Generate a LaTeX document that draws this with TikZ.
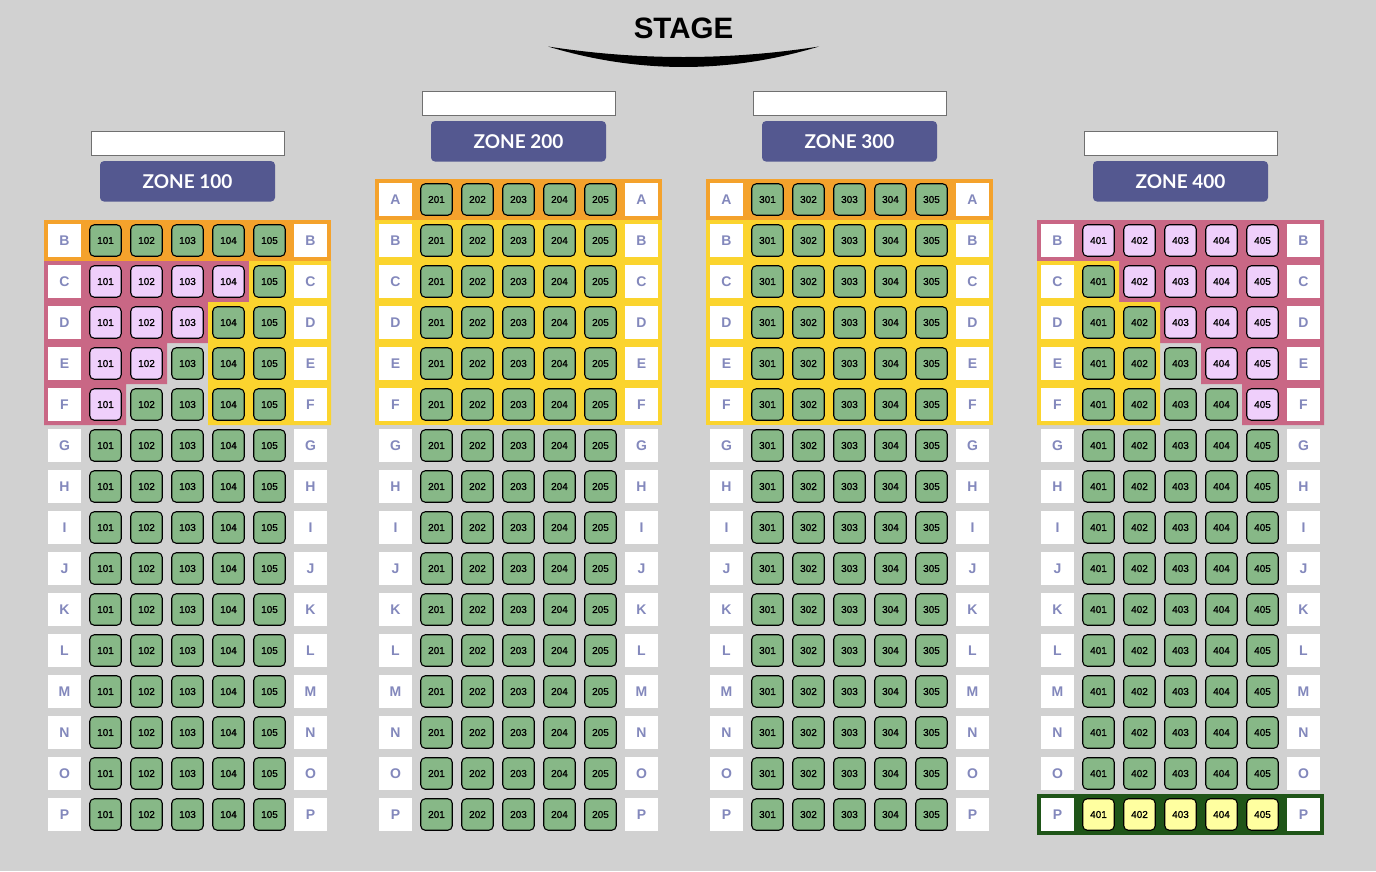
\documentclass[tikz,border=0pt]{standalone}
\usepackage{fontspec}
\setmainfont{Liberation Sans}
\newfontfamily\latofont{Lato}
\newfontfamily\seatfont[FakeBold=1]{Liberation Sans}
\definecolor{bgc}{HTML}{D1D1D1}
\definecolor{sG}{HTML}{87B887}
\definecolor{sP}{HTML}{EFCFFB}
\definecolor{sY}{HTML}{FFFFA0}
\definecolor{orangeb}{HTML}{F4A22C}
\definecolor{yellowb}{HTML}{FBD42E}
\definecolor{pinkb}{HTML}{C96785}
\definecolor{greenb}{HTML}{1F5518}
\definecolor{pillc}{HTML}{545890}
\definecolor{labtext}{HTML}{8388BC}
\definecolor{boxline}{HTML}{707070}
\newcommand\seatrow[4]{%
  \pgfmathsetmacro\zx{64.5+331*(#1-1)}%
  \pgfmathsetmacro\ry{199.5+41*#2}%
  \node[rowlab] (z#1r#3-L) at (\zx,\ry) {#3};
  \node[rowlab] (z#1r#3-R) at (\zx+246,\ry) {#3};
  \foreach \sf [count=\sc] in {#4} {
    \node[seat, fill=\sf] (z#1r#3-s\sc) at (\zx+41*\sc,\ry) {#10\sc};
  }%
}
\begin{document}
\begin{tikzpicture}[x=1pt,y=-1pt,
  rowlab/.style={fill=white, minimum width=33pt, minimum height=33pt, inner sep=0pt, text=labtext, font=\bfseries\fontsize{14}{14}\selectfont},
  seat/.style={draw=black, line width=1.1pt, rounded corners=4.5pt, minimum width=31.5pt, minimum height=31.5pt, inner sep=0pt, font=\seatfont\fontsize{10}{10}\selectfont},
  namebox/.style={draw=boxline, fill=white, line width=1pt, minimum width=193pt, minimum height=24.5pt, inner sep=0pt},
  pill/.style={fill=pillc, rounded corners=4pt, minimum width=175pt, minimum height=40.5pt, inner sep=0pt, text=white, font=\latofont\bfseries\fontsize{19}{19}\selectfont},
  stagelab/.style={font=\bfseries\fontsize{29.5}{29.5}\selectfont, inner sep=0pt}]
\useasboundingbox (0,0) rectangle (1376,871);
\fill[bgc] (0,0) rectangle (1376,871);

% stage
\node[stagelab] (stage) at (683.5,28) {STAGE};
\fill[black] (548,46.5) .. controls (638,60.5) and (729,60.5) .. (819,46.5)
  .. controls (729,73.8) and (638,73.8) .. (548,46.5) -- cycle;

% zone headers
\foreach \z/\dy in {1/40,2/0,3/0,4/40} {
  \node[namebox] (nb\z) at ({188+331*(\z-1)}, {103.3+\dy}) {};
  \node[pill] (zone\z) at ({187.5+331*(\z-1)}, {141.3+\dy}) {ZONE \z00};
}

% bands zone 100
\begin{scope}[shift={(44,179)},x=41pt,y=-41pt]
  \fill[orangeb] (0,1) rectangle (7,2);
  \fill[pinkb] (0,2) -- (5,2) -- (5,3) -- (4,3) -- (4,4) -- (3,4) -- (3,5) -- (2,5) -- (2,6) -- (0,6) -- cycle;
  \fill[yellowb] (5,2) -- (7,2) -- (7,6) -- (4,6) -- (4,3) -- (5,3) -- cycle;
\end{scope}
% bands zone 200 and 300
\foreach \sx in {375,706} {
\begin{scope}[shift={(\sx,179)},x=41pt,y=-41pt]
  \fill[orangeb] (0,0) rectangle (7,1);
  \fill[yellowb] (0,1) rectangle (7,6);
\end{scope}
}
% bands zone 400
\begin{scope}[shift={(1037,179)},x=41pt,y=-41pt]
  \fill[pinkb] (0,1) -- (7,1) -- (7,6) -- (5,6) -- (5,5) -- (4,5) -- (4,4) -- (3,4) -- (3,3) -- (2,3) -- (2,2) -- (0,2) -- cycle;
  \fill[yellowb] (0,2) -- (2,2) -- (2,3) -- (3,3) -- (3,6) -- (0,6) -- cycle;
  \fill[greenb] (0,15) rectangle (7,16);
\end{scope}

% zone 100 seats
\seatrow{1}{1}{B}{sG,sG,sG,sG,sG}
\seatrow{1}{2}{C}{sP,sP,sP,sP,sG}
\seatrow{1}{3}{D}{sP,sP,sP,sG,sG}
\seatrow{1}{4}{E}{sP,sP,sG,sG,sG}
\seatrow{1}{5}{F}{sP,sG,sG,sG,sG}
\foreach \i/\l in {6/G,7/H,8/I,9/J,10/K,11/L,12/M,13/N,14/O,15/P} {\seatrow{1}{\i}{\l}{sG,sG,sG,sG,sG}}

% zone 200 and 300 seats
\foreach \z in {2,3} {
  \foreach \i/\l in {0/A,1/B,2/C,3/D,4/E,5/F,6/G,7/H,8/I,9/J,10/K,11/L,12/M,13/N,14/O,15/P} {\seatrow{\z}{\i}{\l}{sG,sG,sG,sG,sG}}
}

% zone 400 seats
\seatrow{4}{1}{B}{sP,sP,sP,sP,sP}
\seatrow{4}{2}{C}{sG,sP,sP,sP,sP}
\seatrow{4}{3}{D}{sG,sG,sP,sP,sP}
\seatrow{4}{4}{E}{sG,sG,sG,sP,sP}
\seatrow{4}{5}{F}{sG,sG,sG,sG,sP}
\foreach \i/\l in {6/G,7/H,8/I,9/J,10/K,11/L,12/M,13/N,14/O} {\seatrow{4}{\i}{\l}{sG,sG,sG,sG,sG}}
\seatrow{4}{15}{P}{sY,sY,sY,sY,sY}
\end{tikzpicture}
\end{document}
